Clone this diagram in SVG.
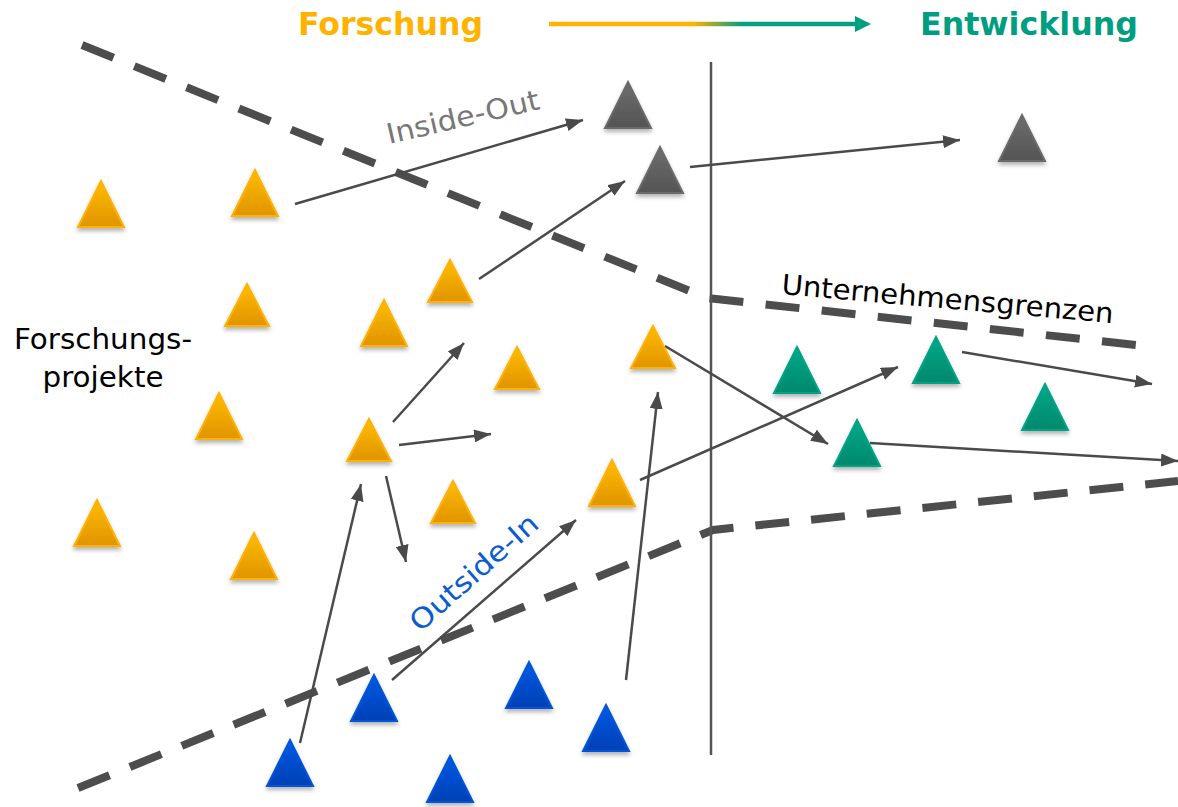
<svg xmlns="http://www.w3.org/2000/svg" xmlns:xlink="http://www.w3.org/1999/xlink" width="1178" height="807" viewBox="0 0 1178 807">
<style>
text{font-family:"DejaVu Sans","Liberation Sans",sans-serif}
.title{font-weight:bold;font-size:32px}
.lbl{font-size:28px}
.conn line{stroke:#4a4a4a;stroke-width:2.5;marker-end:url(#ah)}
.dash{fill:none;stroke:#4d4d4d;stroke-width:8;stroke-dasharray:34 22}
.tri{filter:url(#sh);stroke-width:2;stroke-linejoin:miter}
.o{fill:url(#gO);stroke:#FFB300}
.g{fill:url(#gG);stroke:#6a6a6a}
.t{fill:url(#gT);stroke:#00A384}
.b{fill:url(#gB);stroke:#0054D8}
</style>
<defs>
<linearGradient id="gO" x1="0" y1="0" x2="0" y2="1"><stop offset="0" stop-color="#FFBC00"/><stop offset="1" stop-color="#E09400"/></linearGradient>
<linearGradient id="gG" x1="0" y1="0" x2="0" y2="1"><stop offset="0" stop-color="#6E6E6E"/><stop offset="1" stop-color="#545454"/></linearGradient>
<linearGradient id="gT" x1="0" y1="0" x2="0" y2="1"><stop offset="0" stop-color="#00AA8A"/><stop offset="1" stop-color="#00886C"/></linearGradient>
<linearGradient id="gB" x1="0" y1="0" x2="0" y2="1"><stop offset="0" stop-color="#005AE6"/><stop offset="1" stop-color="#0040B4"/></linearGradient>
<linearGradient id="gArrow" gradientUnits="userSpaceOnUse" x1="549" y1="0" x2="870" y2="0"><stop offset="0.45" stop-color="#FFB400"/><stop offset="0.6" stop-color="#00A080"/></linearGradient>
<filter id="sh" x="-30%" y="-30%" width="160%" height="170%"><feDropShadow dx="0" dy="3" stdDeviation="2" flood-color="#000" flood-opacity="0.3"/></filter>
<path id="tri" d="M0,0 L23,46 L-23,46 Z"/>
<path id="tris" d="M0,0 L22,42 L-22,42 Z"/>
<marker id="ah" markerUnits="userSpaceOnUse" markerWidth="17" markerHeight="13" refX="17" refY="6.5" orient="auto"><path d="M0,0 L17,6.5 L0,13 Z" fill="#4a4a4a"/></marker>
</defs>
<rect width="1178" height="807" fill="#fff"/>

<g id="header">
<text class="title" x="298" y="35" fill="#FFB300" textLength="185" lengthAdjust="spacingAndGlyphs">Forschung</text>
<text class="title" x="920" y="35" fill="#009E80" textLength="218" lengthAdjust="spacingAndGlyphs">Entwicklung</text>
<line x1="549" y1="24" x2="858" y2="24" stroke="url(#gArrow)" stroke-width="4.5"/>
<path d="M855,16 L871,24 L855,32 Z" fill="#00A080"/>
</g>

<g id="boundaries">
<polyline class="dash" style="stroke-dasharray:34 22.4" points="82,45 707,298 1136,345"/>
<polyline class="dash" points="78,788 713,530 1178,481"/>
<line x1="711" y1="62" x2="711" y2="755" stroke="#555" stroke-width="2.5"/>
</g>

<g id="labels">
<text class="lbl" x="103" y="349" text-anchor="middle" fill="#000" textLength="178" lengthAdjust="spacingAndGlyphs">Forschungs-</text>
<text class="lbl" x="103" y="387" text-anchor="middle" fill="#000" textLength="121" lengthAdjust="spacingAndGlyphs">projekte</text>
<text class="lbl" x="389" y="144" fill="#777" transform="rotate(-13 389 144)" textLength="156" lengthAdjust="spacingAndGlyphs">Inside-Out</text>
<text class="lbl" x="420" y="633" fill="#0A5CD0" transform="rotate(-41.5 420 633)" textLength="161" lengthAdjust="spacingAndGlyphs">Outside-In</text>
<text class="lbl" x="781" y="294" fill="#000" transform="rotate(5 781 294)" textLength="333" lengthAdjust="spacingAndGlyphs">Unternehmensgrenzen</text>
</g>

<g id="connectors" class="conn">
<line x1="295" y1="204" x2="583" y2="120"/>
<line x1="479" y1="279" x2="625" y2="181"/>
<line x1="690" y1="167" x2="960" y2="140"/>
<line x1="393" y1="422" x2="464" y2="343"/>
<line x1="399" y1="445" x2="491" y2="434"/>
<line x1="386" y1="476" x2="406" y2="562"/>
<line x1="300" y1="743" x2="361" y2="484"/>
<line x1="392" y1="680" x2="576" y2="520"/>
<line x1="626" y1="680" x2="658" y2="392"/>
<line x1="640" y1="480" x2="898" y2="367"/>
<line x1="665" y1="346" x2="828" y2="444"/>
<line x1="870" y1="443" x2="1178" y2="461"/>
<line x1="962" y1="352" x2="1152" y2="384"/>
</g>

<g id="research-projects">
<g id="o1"><use href="#tri" class="tri o" x="101" y="181"/></g>
<g id="o2"><use href="#tri" class="tri o" x="255" y="170"/></g>
<g id="o3"><use href="#tris" class="tri o" x="247" y="284"/></g>
<g id="o4"><use href="#tri" class="tri o" x="384" y="300"/></g>
<g id="o5"><use href="#tris" class="tri o" x="450" y="260"/></g>
<g id="o6"><use href="#tris" class="tri o" x="517" y="347"/></g>
<g id="o7"><use href="#tris" class="tri o" x="653" y="326"/></g>
<g id="o8"><use href="#tri" class="tri o" x="219" y="393"/></g>
<g id="o9"><use href="#tris" class="tri o" x="369" y="419"/></g>
<g id="o10"><use href="#tris" class="tri o" x="453" y="481"/></g>
<g id="o11"><use href="#tri" class="tri o" x="612" y="460"/></g>
<g id="o12"><use href="#tri" class="tri o" x="97" y="500"/></g>
<g id="o13"><use href="#tri" class="tri o" x="254" y="533"/></g>
</g>

<g id="inside-out-projects">
<g id="g1"><use href="#tri" class="tri g" x="628" y="82"/></g>
<g id="g2"><use href="#tri" class="tri g" x="660" y="147"/></g>
<g id="g3"><use href="#tri" class="tri g" x="1022" y="115"/></g>
</g>

<g id="development-projects">
<g id="t1"><use href="#tri" class="tri t" x="797" y="347"/></g>
<g id="t2"><use href="#tri" class="tri t" x="936" y="337"/></g>
<g id="t3"><use href="#tri" class="tri t" x="1045" y="384"/></g>
<g id="t4"><use href="#tri" class="tri t" x="857" y="420"/></g>
</g>

<g id="outside-in-projects">
<g id="b1"><use href="#tri" class="tri b" x="374" y="675"/></g>
<g id="b2"><use href="#tri" class="tri b" x="529" y="662"/></g>
<g id="b3"><use href="#tri" class="tri b" x="290" y="740"/></g>
<g id="b4"><use href="#tri" class="tri b" x="450" y="756"/></g>
<g id="b5"><use href="#tri" class="tri b" x="606" y="705"/></g>
</g>
</svg>
